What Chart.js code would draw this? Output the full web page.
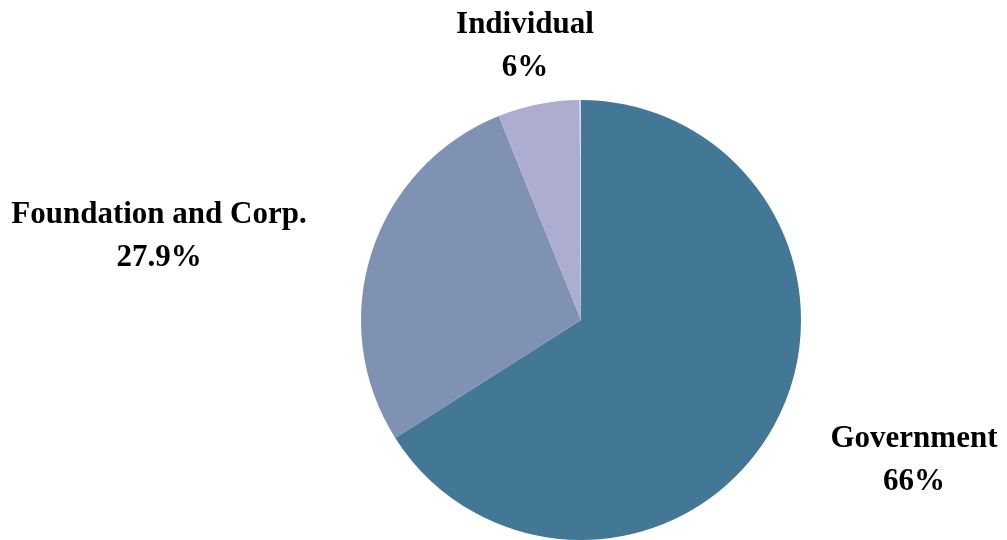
<!DOCTYPE html>
<html>
<head>
<meta charset="utf-8">
<script src="https://cdn.jsdelivr.net/npm/chart.js@4"></script>
<style>
  html, body { margin: 0; padding: 0; background: #fff; }
  #wrap { width: 1007px; height: 540px; }
</style>
</head>
<body>
<div id="wrap"><canvas id="pieChart" width="1007" height="540"></canvas></div>
<script>
// Funding sources (percent)
const categories = ['Government', 'Foundation and Corp.', 'Individual', 'Other'];
const shares = [66, 27.9, 6, 0.1];
const sliceColors = ['#437796', '#7f92b3', '#adadcf', '#dcd6ec'];

// label anchor (center x, first baseline y) for each labelled slice
const labelAnchors = [[914, 447], [159, 223], [525, 33], null];

const labelPlugin = {
    id: 'outsideLabels',
    afterDatasetsDraw(chart) {
        const c = chart.ctx;
        c.save();
        c.fillStyle = '#000';
        c.font = 'bold 31px "Liberation Serif", "Times New Roman", serif';
        c.textAlign = 'center';
        c.textBaseline = 'alphabetic';
        chart.data.labels.forEach((lab, i) => {
            const a = labelAnchors[i];
            if (!a) return;
            c.fillText(lab, a[0], a[1]);
            c.fillText(shares[i] + '%', a[0], a[1] + 43);
        });
        c.restore();
    }
};

const ctx = document.getElementById('pieChart').getContext('2d');
const pieChart = new Chart(ctx, {
    type: 'pie',
    data: {
        labels: categories,
        datasets: [{
            data: shares,
            backgroundColor: sliceColors,
            borderWidth: 0
        }]
    },
    options: {
        responsive: false,
        animation: false,
        layout: { padding: { top: 100, bottom: 0, left: 361, right: 206 } },
        plugins: {
            legend: { display: false },
            tooltip: { enabled: false }
        }
    },
    plugins: [labelPlugin]
});
</script>
</body>
</html>
